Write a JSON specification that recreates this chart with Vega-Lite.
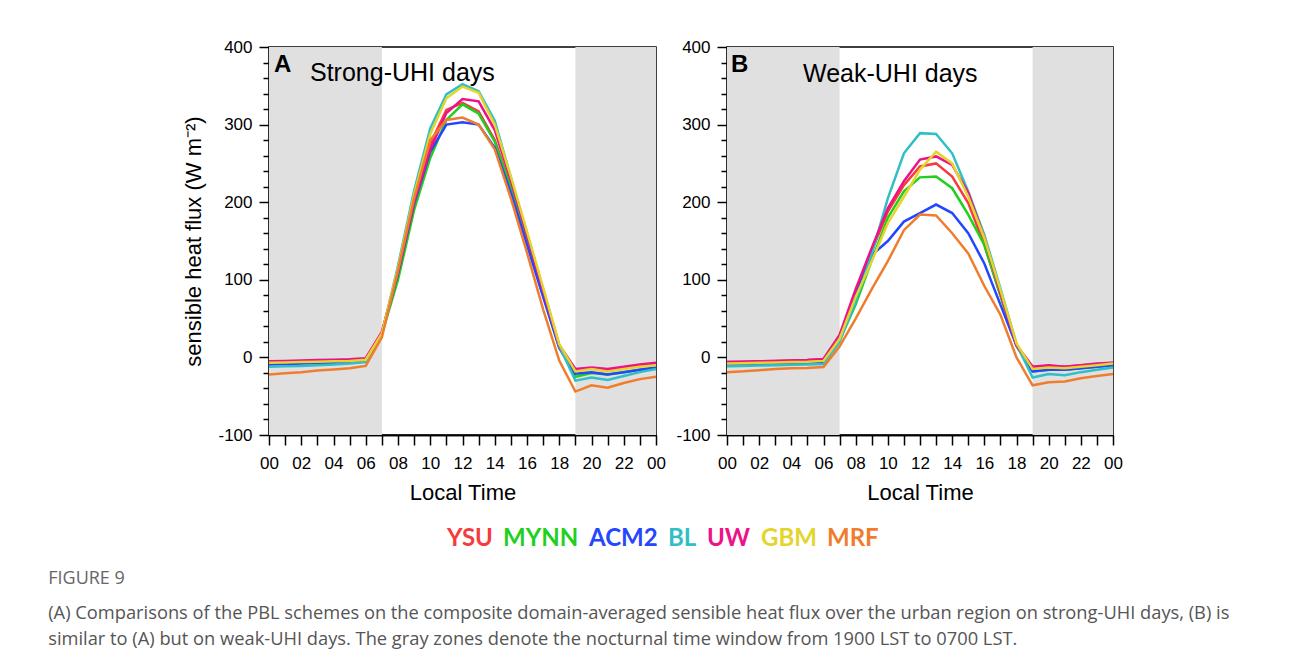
{
  "$schema": "https://vega.github.io/schema/vega-lite/v6.json",
  "background": "white",
  "padding": {"left": 48, "top": 37, "right": 10, "bottom": 4},
  "datasets": {
    "night": [{"start": 0, "end": 7}, {"start": 19, "end": 24}],
    "strong": [
      {"hour": 0, "YSU": -6, "MYNN": -8, "ACM2": -9, "BL": -12, "UW": -5, "GBM": -7, "MRF": -22},
      {"hour": 1, "YSU": -5.5, "MYNN": -7.5, "ACM2": -8.5, "BL": -11.5, "UW": -4.5, "GBM": -6.5, "MRF": -20.5},
      {"hour": 2, "YSU": -5, "MYNN": -7, "ACM2": -8, "BL": -11, "UW": -4, "GBM": -6, "MRF": -19},
      {"hour": 3, "YSU": -4.5, "MYNN": -6.5, "ACM2": -7.5, "BL": -10, "UW": -3.5, "GBM": -5.5, "MRF": -17},
      {"hour": 4, "YSU": -4, "MYNN": -6, "ACM2": -7, "BL": -9, "UW": -3, "GBM": -5, "MRF": -15.5},
      {"hour": 5, "YSU": -3.5, "MYNN": -5.5, "ACM2": -6.5, "BL": -8, "UW": -2.5, "GBM": -4.5, "MRF": -14},
      {"hour": 6, "YSU": -2, "MYNN": -4, "ACM2": -5, "BL": -6, "UW": -1, "GBM": -3, "MRF": -11},
      {"hour": 7, "YSU": 31, "MYNN": 30, "ACM2": 30, "BL": 30, "UW": 33, "GBM": 31, "MRF": 26},
      {"hour": 8, "YSU": 112, "MYNN": 100, "ACM2": 108, "BL": 118, "UW": 110, "GBM": 115, "MRF": 112},
      {"hour": 9, "YSU": 205, "MYNN": 190, "ACM2": 198, "BL": 215, "UW": 200, "GBM": 210, "MRF": 205},
      {"hour": 10, "YSU": 275, "MYNN": 257, "ACM2": 265, "BL": 295, "UW": 268, "GBM": 288, "MRF": 280},
      {"hour": 11, "YSU": 319, "MYNN": 306, "ACM2": 300, "BL": 339, "UW": 315, "GBM": 334, "MRF": 306},
      {"hour": 12, "YSU": 328, "MYNN": 326, "ACM2": 303, "BL": 352, "UW": 333, "GBM": 349, "MRF": 309},
      {"hour": 13, "YSU": 317, "MYNN": 314, "ACM2": 300, "BL": 343, "UW": 330, "GBM": 341, "MRF": 300},
      {"hour": 14, "YSU": 280, "MYNN": 278, "ACM2": 270, "BL": 305, "UW": 293, "GBM": 300, "MRF": 268},
      {"hour": 15, "YSU": 220, "MYNN": 218, "ACM2": 212, "BL": 232, "UW": 228, "GBM": 233, "MRF": 205},
      {"hour": 16, "YSU": 150, "MYNN": 148, "ACM2": 145, "BL": 160, "UW": 157, "GBM": 162, "MRF": 135},
      {"hour": 17, "YSU": 82, "MYNN": 80, "ACM2": 78, "BL": 88, "UW": 86, "GBM": 90, "MRF": 62},
      {"hour": 18, "YSU": 14, "MYNN": 13, "ACM2": 12, "BL": 15, "UW": 16, "GBM": 17, "MRF": -4},
      {"hour": 19, "YSU": -16, "MYNN": -25, "ACM2": -21, "BL": -30, "UW": -15, "GBM": -18, "MRF": -44},
      {"hour": 20, "YSU": -14, "MYNN": -20, "ACM2": -19, "BL": -26, "UW": -13, "GBM": -15, "MRF": -36},
      {"hour": 21, "YSU": -16, "MYNN": -22, "ACM2": -22, "BL": -29, "UW": -15, "GBM": -18, "MRF": -39},
      {"hour": 22, "YSU": -13, "MYNN": -19, "ACM2": -19, "BL": -24, "UW": -12, "GBM": -15, "MRF": -33},
      {"hour": 23, "YSU": -10, "MYNN": -16, "ACM2": -16, "BL": -19, "UW": -9, "GBM": -12, "MRF": -28},
      {"hour": 24, "YSU": -8, "MYNN": -13, "ACM2": -13, "BL": -15, "UW": -7, "GBM": -10, "MRF": -25}
    ],
    "weak": [
      {"hour": 0, "YSU": -6, "MYNN": -9, "ACM2": -9, "BL": -11.5, "UW": -6, "GBM": -8, "MRF": -19},
      {"hour": 1, "YSU": -5.5, "MYNN": -8.5, "ACM2": -8.5, "BL": -11, "UW": -5.5, "GBM": -7.5, "MRF": -18},
      {"hour": 2, "YSU": -5, "MYNN": -8, "ACM2": -8, "BL": -10.5, "UW": -5, "GBM": -7, "MRF": -16.5},
      {"hour": 3, "YSU": -4.5, "MYNN": -7, "ACM2": -7.5, "BL": -10, "UW": -4.5, "GBM": -6.5, "MRF": -15},
      {"hour": 4, "YSU": -4, "MYNN": -6.5, "ACM2": -7, "BL": -9.5, "UW": -4, "GBM": -6, "MRF": -14},
      {"hour": 5, "YSU": -3.5, "MYNN": -6, "ACM2": -6.5, "BL": -9, "UW": -3.5, "GBM": -5.5, "MRF": -13.5},
      {"hour": 6, "YSU": -2.5, "MYNN": -5, "ACM2": -5.5, "BL": -8.5, "UW": -2, "GBM": -4.5, "MRF": -12.5},
      {"hour": 7, "YSU": 27, "MYNN": 22, "ACM2": 22, "BL": 20, "UW": 29, "GBM": 24, "MRF": 14},
      {"hour": 8, "YSU": 85, "MYNN": 68, "ACM2": 80, "BL": 72, "UW": 88, "GBM": 78, "MRF": 50},
      {"hour": 9, "YSU": 137, "MYNN": 125, "ACM2": 132, "BL": 133, "UW": 141, "GBM": 124, "MRF": 88},
      {"hour": 10, "YSU": 188, "MYNN": 180, "ACM2": 150, "BL": 205, "UW": 192, "GBM": 173, "MRF": 124},
      {"hour": 11, "YSU": 222, "MYNN": 214, "ACM2": 175, "BL": 263, "UW": 227, "GBM": 207, "MRF": 164},
      {"hour": 12, "YSU": 246, "MYNN": 232, "ACM2": 186, "BL": 289, "UW": 255, "GBM": 242, "MRF": 184},
      {"hour": 13, "YSU": 250, "MYNN": 233, "ACM2": 197, "BL": 288, "UW": 259, "GBM": 265, "MRF": 183},
      {"hour": 14, "YSU": 233, "MYNN": 218, "ACM2": 186, "BL": 263, "UW": 248, "GBM": 250, "MRF": 160},
      {"hour": 15, "YSU": 199, "MYNN": 184, "ACM2": 160, "BL": 214, "UW": 212, "GBM": 207, "MRF": 134},
      {"hour": 16, "YSU": 145, "MYNN": 145, "ACM2": 121, "BL": 158, "UW": 154, "GBM": 154, "MRF": 92},
      {"hour": 17, "YSU": 80, "MYNN": 80, "ACM2": 68, "BL": 89, "UW": 83, "GBM": 87, "MRF": 55},
      {"hour": 18, "YSU": 15, "MYNN": 15, "ACM2": 15, "BL": 17, "UW": 16, "GBM": 18, "MRF": 0},
      {"hour": 19, "YSU": -12, "MYNN": -18, "ACM2": -18, "BL": -26, "UW": -12, "GBM": -15, "MRF": -36},
      {"hour": 20, "YSU": -11, "MYNN": -16, "ACM2": -16, "BL": -21.5, "UW": -10, "GBM": -13, "MRF": -32},
      {"hour": 21, "YSU": -12, "MYNN": -16, "ACM2": -16, "BL": -23, "UW": -12, "GBM": -14, "MRF": -31},
      {"hour": 22, "YSU": -10, "MYNN": -14, "ACM2": -14, "BL": -19, "UW": -10, "GBM": -12, "MRF": -27},
      {"hour": 23, "YSU": -9, "MYNN": -12, "ACM2": -12, "BL": -16, "UW": -8, "GBM": -10, "MRF": -24},
      {"hour": 24, "YSU": -7, "MYNN": -10, "ACM2": -10, "BL": -13, "UW": -7, "GBM": -8, "MRF": -21.5}
    ]
  },
  "bounds": "flush",
  "spacing": 71,
  "resolve": {"scale": {"color": "shared"}},
  "title": {
    "text": "FIGURE 9",
    "subtitle": [
      "(A) Comparisons of the PBL schemes on the composite domain-averaged sensible heat flux over the urban region on strong-UHI days, (B) is",
      "similar to (A) but on weak-UHI days. The gray zones denote the nocturnal time window from 1900 LST to 0700 LST."
    ],
    "orient": "bottom",
    "anchor": "start",
    "frame": "bounds",
    "dx": -134,
    "offset": 19,
    "font": "Open Sans",
    "fontSize": 18,
    "fontWeight": "normal",
    "color": "#666666",
    "subtitleFont": "Open Sans",
    "subtitleFontSize": 18.3,
    "subtitleColor": "#555555",
    "subtitleLineHeight": 26,
    "subtitlePadding": 17
  },
  "hconcat": [
    {
      "width": 387,
      "height": 388,
      "resolve": {"axis": {"x": "independent", "y": "independent"}},
      "layer": [
        {
          "data": {"name": "night"},
          "mark": {"type": "rect", "color": "#e0e0e0"},
          "encoding": {
            "x": {"field": "start", "type": "quantitative", "scale": {"domain": [0, 24], "nice": false, "zero": false},
                  "axis": {"orient": "bottom", "values": [1,3,5,7,9,11,13,15,17,19,21,23], "labels": false, "title": null}},
            "x2": {"field": "end"},
            "y": {"datum": -100, "type": "quantitative", "scale": {"domain": [-100, 400], "nice": false, "zero": false},
                  "axis": {"orient": "left", "values": [-80,-60,-40,-20,20,40,60,80,120,140,160,180,220,240,260,280,320,340,360,380], "tickSize": 6, "labels": false, "domain": false, "title": null}},
            "y2": {"datum": 400}
          }
        },
        {
          "data": {"name": "strong"},
          "transform": [{"fold": ["YSU", "MYNN", "ACM2", "BL", "UW", "GBM", "MRF"], "as": ["scheme", "flux"]}],
          "mark": {"type": "line", "strokeWidth": 2.5},
          "encoding": {
            "x": {"field": "hour", "type": "quantitative",
                  "axis": {"orient": "bottom", "values": [0,2,4,6,8,10,12,14,16,18,20,22,24], "labelExpr": "(datum.value % 24 < 10 ? '0' : '') + (datum.value % 24)", "title": "Local Time"}},
            "y": {"field": "flux", "type": "quantitative",
                  "axis": {"orient": "left", "values": [-100, 0, 100, 200, 300, 400], "labelExpr": "replace(datum.label, '\u2212', '-')", "title": "sensible heat flux (W m⁻²)", "titlePadding": 12}},
            "color": {
              "field": "scheme", "type": "nominal",
              "scale": {"domain": ["YSU", "MYNN", "ACM2", "BL", "UW", "GBM", "MRF"],
                        "range": ["#f53b3b", "#1fd01f", "#2446ff", "#30bec7", "#ee1188", "#e4d52c", "#f07d2e"]},
              "legend": {
                "orient": "none", "legendX": 178, "legendY": 480, "direction": "horizontal",
                "title": null, "symbolType": "circle", "symbolSize": 0.0001, "symbolOpacity": 0, "symbolStrokeWidth": 0,
                "labelOffset": -24, "columnPadding": 10, "labelLimit": 0,
                "labelFont": "Lato", "labelFontSize": 24, "labelFontWeight": "bold",
                "labelColor": {"expr": "scale('color', datum.value)"}
              }
            }
          }
        },
        {
          "data": {"values": [{}]},
          "mark": {"type": "text", "font": "Liberation Sans", "fontSize": 24, "fontWeight": "bold", "align": "left", "baseline": "alphabetic", "dx": 5, "dy": 25},
          "encoding": {"x": {"datum": 0, "type": "quantitative", "axis": null}, "y": {"datum": 400, "type": "quantitative", "axis": null}, "text": {"value": "A"}}
        },
        {
          "data": {"values": [{}]},
          "mark": {"type": "text", "font": "Liberation Sans", "fontSize": 25, "align": "left", "baseline": "alphabetic", "dx": 41, "dy": 34},
          "encoding": {"x": {"datum": 0, "type": "quantitative", "axis": null}, "y": {"datum": 400, "type": "quantitative", "axis": null}, "text": {"value": "Strong-UHI days"}}
        }
      ]
    },
    {
      "width": 386,
      "height": 388,
      "resolve": {"axis": {"x": "independent", "y": "independent"}},
      "layer": [
        {
          "data": {"name": "night"},
          "mark": {"type": "rect", "color": "#e0e0e0"},
          "encoding": {
            "x": {"field": "start", "type": "quantitative", "scale": {"domain": [0, 24], "nice": false, "zero": false},
                  "axis": {"orient": "bottom", "values": [1,3,5,7,9,11,13,15,17,19,21,23], "labels": false, "title": null}},
            "x2": {"field": "end"},
            "y": {"datum": -100, "type": "quantitative", "scale": {"domain": [-100, 400], "nice": false, "zero": false},
                  "axis": {"orient": "left", "values": [-80,-60,-40,-20,20,40,60,80,120,140,160,180,220,240,260,280,320,340,360,380], "tickSize": 6, "labels": false, "domain": false, "title": null}},
            "y2": {"datum": 400}
          }
        },
        {
          "data": {"name": "weak"},
          "transform": [{"fold": ["YSU", "MYNN", "ACM2", "BL", "UW", "GBM", "MRF"], "as": ["scheme", "flux"]}],
          "mark": {"type": "line", "strokeWidth": 2.5},
          "encoding": {
            "x": {"field": "hour", "type": "quantitative",
                  "axis": {"orient": "bottom", "values": [0,2,4,6,8,10,12,14,16,18,20,22,24], "labelExpr": "(datum.value % 24 < 10 ? '0' : '') + (datum.value % 24)", "title": "Local Time"}},
            "y": {"field": "flux", "type": "quantitative",
                  "axis": {"orient": "left", "values": [-100, 0, 100, 200, 300, 400], "labelExpr": "replace(datum.label, '\u2212', '-')", "title": null}},
            "color": {"field": "scheme", "type": "nominal"}
          }
        },
        {
          "data": {"values": [{}]},
          "mark": {"type": "text", "font": "Liberation Sans", "fontSize": 24, "fontWeight": "bold", "align": "left", "baseline": "alphabetic", "dx": 4, "dy": 25},
          "encoding": {"x": {"datum": 0, "type": "quantitative", "axis": null}, "y": {"datum": 400, "type": "quantitative", "axis": null}, "text": {"value": "B"}}
        },
        {
          "data": {"values": [{}]},
          "mark": {"type": "text", "font": "Liberation Sans", "fontSize": 25, "align": "left", "baseline": "alphabetic", "dx": 76, "dy": 35},
          "encoding": {"x": {"datum": 0, "type": "quantitative", "axis": null}, "y": {"datum": 400, "type": "quantitative", "axis": null}, "text": {"value": "Weak-UHI days"}}
        }
      ]
    }
  ],
  "config": {
    "view": {"stroke": "black", "strokeWidth": 1.5},
    "axis": {
      "zindex": 1,
      "grid": false,
      "domainColor": "black", "domainWidth": 1.5,
      "tickColor": "black", "tickWidth": 1.5, "tickSize": 10,
      "labelFont": "Liberation Sans", "labelFontSize": 17, "labelColor": "black", "labelPadding": 7,
      "labelFlush": false, "labelOverlap": false,
      "titleFont": "Liberation Sans", "titleFontSize": 22, "titleFontWeight": "normal", "titleColor": "black", "titlePadding": 11
    },
    "axisX": {"labelPadding": 10}
  }
}
